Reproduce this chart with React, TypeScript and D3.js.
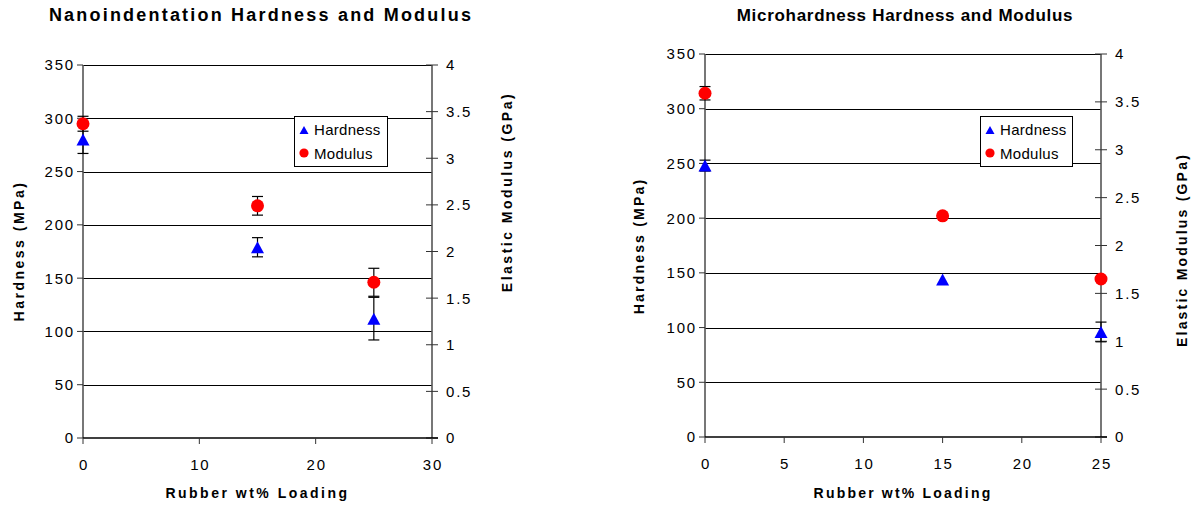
import React from "react";
import * as d3 from "d3";

// Rubber loading (wt%) and measured properties
const nanoLoading = [0, 15, 25];
const nanoHardness = [280, 179, 112];
const nanoHardnessErr = [13, 9, 20];
const nanoModulus = [3.37, 2.49, 1.67];
const nanoModulusErr = [0.08, 0.1, 0.15];

const microLoading = [0, 15, 25];
const microHardness = [248, 144, 96];
const microHardnessErr = [5, 0, 9];
const microModulus = [3.59, 2.31, 1.65];
const microModulusErr = [0.07, 0.02, 0.02];

const hardnessTicks = [0, 50, 100, 150, 200, 250, 300, 350];
const modulusTicks = [0, 0.5, 1, 1.5, 2, 2.5, 3, 3.5, 4];
const nanoXTicks = [0, 10, 20, 30];
const microXTicks = [0, 5, 10, 15, 20, 25];

const FONT = "'Liberation Sans', Arial, Helvetica, sans-serif";
const BLUE = "#0000ff";
const RED = "#ff0000";

type PanelCfg = {
  title: string;
  titleX: number;
  titleSize: number;
  titleSpacing: number;
  left: number;
  right: number;
  top: number;
  bottom: number;
  xMax: number;
  xTicks: number[];
  loading: number[];
  hardness: number[];
  hardnessErr: number[];
  modulus: number[];
  modulusErr: number[];
  legendX: number;
  legendW: number;
  yTitleLeftX: number;
  yTitleLeftY: number;
  yTitleRightX: number;
  yTitleRightY: number;
  axisTitleSpacing: number;
};

const triPath = (cx: number, cy: number, w: number, h: number) =>
  `M${cx},${cy - h / 2}L${cx + w / 2},${cy + h / 2}L${cx - w / 2},${cy + h / 2}Z`;

function ErrorBar({ px, y1, y2, cap }: { px: number; y1: number; y2: number; cap: number }) {
  if (Math.abs(y2 - y1) < 0.01) return null;
  return (
    <g stroke="#000" strokeWidth={1.2}>
      <line x1={px} x2={px} y1={y1} y2={y2} />
      <line x1={px - cap} x2={px + cap} y1={y1} y2={y1} />
      <line x1={px - cap} x2={px + cap} y1={y2} y2={y2} />
    </g>
  );
}

function Panel({ c }: { c: PanelCfg }) {
  const x = d3.scaleLinear().domain([0, c.xMax]).range([c.left, c.right]);
  const yH = d3.scaleLinear().domain([0, 350]).range([c.bottom, c.top]);
  const yM = d3.scaleLinear().domain([0, 4]).range([c.bottom, c.top]);
  const cap = 5.5;
  const tickFont = { fontFamily: FONT, fontSize: 15, letterSpacing: 1.8, fill: "#000" };
  const axisTitle = {
    fontFamily: FONT,
    fontSize: 14,
    fontWeight: 700,
    letterSpacing: c.axisTitleSpacing,
    fill: "#000",
  };
  const ly = 116;
  return (
    <g>
      <text
        x={c.titleX}
        y={21}
        textAnchor="middle"
        style={{ fontFamily: FONT, fontSize: c.titleSize, fontWeight: 700, letterSpacing: c.titleSpacing }}
      >
        {c.title}
      </text>

      {/* horizontal gridlines */}
      {hardnessTicks
        .filter((t) => t > 0)
        .map((t) => (
          <line
            key={"g" + t}
            x1={c.left}
            x2={c.right}
            y1={Math.round(yH(t)) + 0.5}
            y2={Math.round(yH(t)) + 0.5}
            stroke="#000"
            strokeWidth={1}
          />
        ))}

      {/* left axis */}
      <line x1={c.left} x2={c.left} y1={c.top} y2={c.bottom} stroke="#555" strokeWidth={1.6} />
      {hardnessTicks.map((t) => (
        <g key={"l" + t}>
          <line x1={c.left - 6} x2={c.left} y1={yH(t)} y2={yH(t)} stroke="#333" strokeWidth={1} />
          <text x={c.left - 8} y={yH(t)} dy="0.36em" textAnchor="end" style={tickFont}>
            {t}
          </text>
        </g>
      ))}

      {/* right axis */}
      <line x1={c.right} x2={c.right} y1={c.top} y2={c.bottom} stroke="#555" strokeWidth={1.6} />
      {modulusTicks.map((t) => (
        <g key={"r" + t}>
          <line x1={c.right - 6} x2={c.right + 6} y1={yM(t)} y2={yM(t)} stroke="#333" strokeWidth={1} />
          <text x={c.right + 14} y={yM(t)} dy="0.36em" textAnchor="start" style={tickFont}>
            {t}
          </text>
        </g>
      ))}

      {/* bottom axis */}
      <line x1={c.left} x2={c.right + 6} y1={c.bottom} y2={c.bottom} stroke="#000" strokeWidth={1.3} />
      {c.xTicks.map((t) => (
        <g key={"x" + t}>
          <line x1={x(t)} x2={x(t)} y1={c.bottom} y2={c.bottom + 6} stroke="#333" strokeWidth={1} />
          <text x={x(t) + 1} y={c.bottom + 32} textAnchor="middle" style={tickFont}>
            {t}
          </text>
        </g>
      ))}

      {/* axis titles */}
      <text x={(c.left + c.right) / 2} y={498} textAnchor="middle" style={axisTitle}>
        Rubber wt% Loading
      </text>
      <text
        transform={`translate(${c.yTitleLeftX},${c.yTitleLeftY}) rotate(-90)`}
        textAnchor="middle"
        style={axisTitle}
      >
        Hardness (MPa)
      </text>
      <text
        transform={`translate(${c.yTitleRightX},${c.yTitleRightY}) rotate(-90)`}
        textAnchor="middle"
        style={axisTitle}
      >
        Elastic Modulus (GPa)
      </text>

      {/* hardness series */}
      {c.loading.map((l, i) => (
        <ErrorBar
          key={"he" + i}
          px={x(l)}
          y1={yH(c.hardness[i] + c.hardnessErr[i])}
          y2={yH(c.hardness[i] - c.hardnessErr[i])}
          cap={cap}
        />
      ))}
      {c.loading.map((l, i) => (
        <path key={"hm" + i} d={triPath(x(l), yH(c.hardness[i]), 13, 12)} fill={BLUE} />
      ))}

      {/* modulus series */}
      {c.loading.map((l, i) => (
        <ErrorBar
          key={"me" + i}
          px={x(l)}
          y1={yM(c.modulus[i] + c.modulusErr[i])}
          y2={yM(c.modulus[i] - c.modulusErr[i])}
          cap={cap}
        />
      ))}
      {c.loading.map((l, i) => (
        <circle key={"mm" + i} cx={x(l)} cy={yM(c.modulus[i])} r={6.5} fill={RED} />
      ))}

      {/* legend */}
      <rect x={c.legendX + 0.5} y={ly + 0.5} width={c.legendW} height={50} fill="#fff" stroke="#000" strokeWidth={1} />
      <path d={triPath(c.legendX + 10, ly + 14, 9, 8)} fill={BLUE} />
      <circle cx={c.legendX + 10} cy={ly + 37} r={4.6} fill={RED} />
      <text x={c.legendX + 20} y={ly + 19} style={{ fontFamily: FONT, fontSize: 15, letterSpacing: 0.3 }}>
        Hardness
      </text>
      <text x={c.legendX + 20} y={ly + 43} style={{ fontFamily: FONT, fontSize: 15, letterSpacing: 0.3 }}>
        Modulus
      </text>
    </g>
  );
}

const nanoPanel: PanelCfg = {
  title: "Nanoindentation Hardness and Modulus",
  titleX: 261,
  titleSize: 18,
  titleSpacing: 2.2,
  left: 83,
  right: 432,
  top: 65,
  bottom: 438,
  xMax: 30,
  xTicks: nanoXTicks,
  loading: nanoLoading,
  hardness: nanoHardness,
  hardnessErr: nanoHardnessErr,
  modulus: nanoModulus,
  modulusErr: nanoModulusErr,
  legendX: 294,
  legendW: 93,
  yTitleLeftX: 24,
  yTitleLeftY: 251,
  yTitleRightX: 512,
  yTitleRightY: 192,
  axisTitleSpacing: 2.5,
};

const microPanel: PanelCfg = {
  title: "Microhardness Hardness and Modulus",
  titleX: 905,
  titleSize: 17,
  titleSpacing: 0.7,
  left: 705,
  right: 1101,
  top: 54,
  bottom: 437,
  xMax: 25,
  xTicks: microXTicks,
  loading: microLoading,
  hardness: microHardness,
  hardnessErr: microHardnessErr,
  modulus: microModulus,
  modulusErr: microModulusErr,
  legendX: 980,
  legendW: 92,
  yTitleLeftX: 644,
  yTitleLeftY: 246,
  yTitleRightX: 1187,
  yTitleRightY: 250,
  axisTitleSpacing: 2.2,
};

export default function App() {
  return (
    <svg
      width={1192}
      height={506}
      viewBox="0 0 1192 506"
      style={{ position: "absolute", left: 0, top: 0, background: "#fff" }}
    >
      <rect width={1192} height={506} fill="#fff" />
      <Panel c={nanoPanel} />
      <Panel c={microPanel} />
    </svg>
  );
}
